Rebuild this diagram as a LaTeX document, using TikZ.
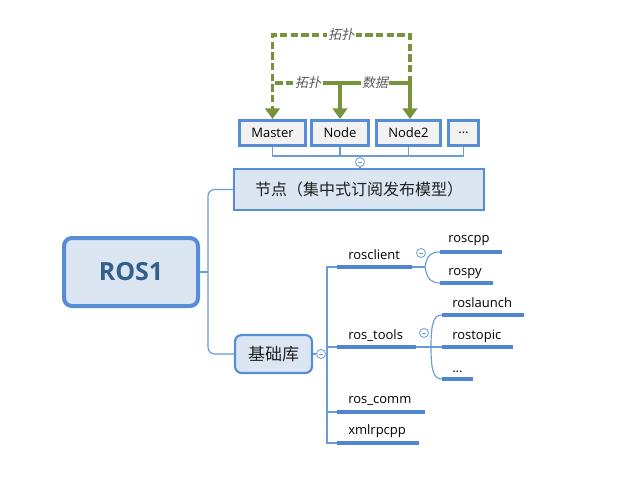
\documentclass[tikz,border=0pt]{standalone}
\usepackage{fontspec}
\setmainfont{Open Sans}
\newfontfamily\cjk{Noto Sans CJK SC}
\newfontfamily\cjki{Noto Sans CJK SC}[FakeSlant=0.2]
\usetikzlibrary{arrows.meta,calc}
\definecolor{bblue}{HTML}{558ED5}
\definecolor{lblue}{HTML}{DCE6F2}
\definecolor{tgray}{HTML}{F2F2F2}
\definecolor{rtext}{HTML}{335F8E}
\definecolor{grn}{HTML}{77933C}
\definecolor{lbl}{HTML}{595959}
\definecolor{ulc}{HTML}{4F86CF}
\definecolor{lnc}{HTML}{6B9BDA}
\begin{document}
\begin{tikzpicture}[x=0.75pt,y=-0.75pt,
 topbox/.style={draw=bblue,line width=2.25pt,fill=tgray,minimum height={25*0.75pt},inner sep=0pt,font=\fontsize{9.75}{11}\selectfont,text=black},
 conn/.style={draw=lnc,line width=0.85pt},
 uline/.style={draw=ulc,line width=2.4pt},
 leaf/.style={anchor=base west,inner sep=0pt,font=\fontsize{9.75}{11}\selectfont,text=black},
 mincirc/.style={circle,draw=lnc,fill=white,line width=0.6pt,minimum size={9*0.75pt},inner sep=0pt,
   path picture={\draw[lnc,line width=0.6pt] ($(path picture bounding box.west)!0.28!(path picture bounding box.east)$) -- ($(path picture bounding box.west)!0.72!(path picture bounding box.east)$);}},
 garrow/.style={draw=grn,line width=2.6pt},
 gdash/.style={garrow,dash pattern=on 5.5pt off 2.5pt},
 glabel/.style={fill=white,inner sep=1pt,text=lbl,font=\cjki\fontsize{9.75}{11}\selectfont},
 gtip/.style={-{Triangle[length=8pt,width=11pt]}}
]
\useasboundingbox[fill=white] (0,0) rectangle (642,482);

% top boxes
\node[topbox,minimum width={66*0.75pt}] (master) at (272.5,133) {Master};
\node[topbox,minimum width={57*0.75pt}] (node1) at (340,133) {Node};
\node[topbox,minimum width={64*0.75pt}] (node2) at (408.5,133) {Node2};
\node[topbox,minimum width={30*0.75pt}] (dots) at (463.5,133) {...};

% main boxes
\node[draw=bblue,line width=1.6pt,fill=lblue,minimum width={250*0.75pt},minimum height={41*0.75pt},font=\cjk\fontsize{12}{14}\selectfont,text=black!88] (jd) at (359,189.5) {节点（集中式订阅发布模型）};
\node[draw=bblue,line width=3pt,fill=lblue,rounded corners=6pt,minimum width={134*0.75pt},minimum height={68*0.75pt},font=\bfseries\fontsize{18.75}{20}\selectfont,text=rtext] (ros) at (131,272) {ROS1};
\node[draw=bblue,line width=1.6pt,fill=lblue,rounded corners=5pt,minimum width={77*0.75pt},minimum height={38*0.75pt},font=\cjk\fontsize{12.75}{14}\selectfont,text=black!88] (jc) at (273.5,354) {基础库};

% connectors under top boxes
\coordinate (hb) at (360,156);
\node[mincirc] (c1) at (360,162) {};
\draw[conn] (master.south) |- (hb) -| (dots.south);
\draw[conn] (node1.south) -- (node1.south |- hb);
\draw[conn] (node2.south) -- (node2.south |- hb);
\draw[conn] (hb) -- (c1.north);
\draw[conn] (c1.south) -- (jd.north -| c1);

% green relations
\coordinate (t0) at (272.5,35);
\coordinate (t1) at (410,35);
\coordinate (j0) at (272.5,83);
\coordinate (j1) at (340,83);
\coordinate (j2) at (410,83);
\node[glabel] (l2) at (308,83) {拓扑};
\draw[gdash,gtip] (j2) -- (t1) -- node[glabel] (l1) {拓扑} (t0) -- (master.north);
\draw[garrow] (j2) -- (l2.east);
\draw[gdash] (l2.west) -- (j0);
\node[glabel] (l3) at (375,83) {数据};
\draw[garrow,gtip] (j1) -- (node1.north);
\draw[garrow,gtip] (j2) -- (node2.north -| j2);

% main tree connectors
\coordinate (rj) at (208,272);
\draw[conn] (ros.east) -- (rj);
\draw[conn,rounded corners=5pt] (jd.west) -| (rj) |- (jc.west);

% base library branch
\node[mincirc] (c2) at (321,354) {};
\draw[conn] (jc.east) -- (c2.west);
\coordinate (s1) at (327,267);
\coordinate (s2) at (327,347);
\coordinate (s3) at (327,412);
\coordinate (s4) at (327,443);
\coordinate (sc) at (327,354);
\draw[conn] (c2.east) -- (sc);
\coordinate (u1a) at (337,267); \coordinate (u1b) at (412,267);
\coordinate (u2a) at (337,347); \coordinate (u2b) at (416,347);
\coordinate (u3a) at (337,412); \coordinate (u3b) at (425,412);
\coordinate (u4a) at (337,443); \coordinate (u4b) at (419,443);
\draw[conn] (u1a) -- (s1) -- (s4) -- (u4a);
\draw[conn] (s2) -- (u2a);
\draw[conn] (s3) -- (u3a);
\draw[uline] (u1a) -- (u1b);
\draw[uline] (u2a) -- (u2b);
\draw[uline] (u3a) -- (u3b);
\draw[uline] (u4a) -- (u4b);
\node[leaf] (rosclient) at (348,259) {rosclient};
\node[leaf] (rostools) at (348,339) {ros\_tools};
\node[leaf] (roscomm) at (348,403) {ros\_comm};
\node[leaf] (xmlrpc) at (348,434) {xmlrpcpp};

% rosclient children
\node[mincirc] (c3) at (421,253) {};
\coordinate (k1) at (425,267);
\coordinate (v1a) at (440,252); \coordinate (v1b) at (502,252);
\coordinate (v2a) at (440,283); \coordinate (v2b) at (493,283);
\draw[conn] (u1b) -- (k1);
\draw[conn] (k1) .. controls (427,255) and (431,252) .. (v1a);
\draw[conn] (k1) .. controls (427,279) and (431,283) .. (v2a);
\draw[uline] (v1a) -- (v1b);
\draw[uline] (v2a) -- (v2b);
\node[leaf] (roscpp) at (448,242) {roscpp};
\node[leaf] (rospy) at (448,275) {rospy};

% ros_tools children
\node[mincirc] (c4) at (424,333) {};
\coordinate (k2) at (431,347);
\coordinate (w1a) at (442,315); \coordinate (w1b) at (524,315);
\coordinate (w2a) at (442,347); \coordinate (w2b) at (513,347);
\coordinate (w3a) at (442,379); \coordinate (w3b) at (473,379);
\draw[conn] (u2b) -- (w2a);
\draw[conn] (k2) .. controls (431,322) and (434,315) .. (w1a);
\draw[conn] (k2) .. controls (431,372) and (434,379) .. (w3a);
\draw[uline] (w1a) -- (w1b);
\draw[uline] (w2a) -- (w2b);
\draw[uline] (w3a) -- (w3b);
\node[leaf] (roslaunch) at (452,307) {roslaunch};
\node[leaf] (rostopic) at (452,339) {rostopic};
\node[leaf] (tdots) at (452,372) {...};
\end{tikzpicture}
\end{document}
